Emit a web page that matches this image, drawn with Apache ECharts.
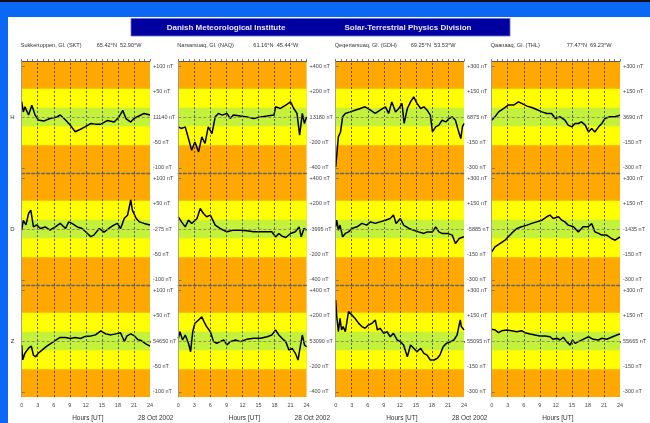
<!DOCTYPE html>
<html><head><meta charset="utf-8">
<script src="https://cdn.jsdelivr.net/npm/echarts@6/dist/echarts.min.js"></script>
<style>html,body{margin:0;padding:0;background:#fff;}#c{width:650px;height:423px;}</style>
</head><body><div id="c"></div>
<script>
// ---------------- labels / categories ----------------
const headerLeft = 'Danish Meteorological Institute';
const headerRight = 'Solar-Terrestrial Physics Division';
const stations = ['SKT', 'NAQ', 'GDH', 'THL'];
const stationTitles = ['Sukkertoppen, Gl. (SKT)', 'Narsarsuaq, Gl. (NAQ)', 'Qeqertarsuaq, Gl. (GDH)', 'Qaanaaq, Gl. (THL)'];
const stationCoords = ['65.42°N  52.90°W', '61.16°N  45.44°W', '69.25°N  53.53°W', '77.47°N  69.23°W'];
const components = ['H', 'D', 'Z'];
const fullScale = [100, 400, 300, 300]; // nT per station (tick at +/- full and half)
const baselineLabels = [
  ['11140 nT', '-275 nT', '54650 nT'],
  ['13180 nT', '-3995 nT', '53090 nT'],
  ['6875 nT', '-5885 nT', '55095 nT'],
  ['3690 nT', '-1435 nT', '55665 nT']
];
const hourTicks = [0, 3, 6, 9, 12, 15, 18, 21, 24];
const xName = 'Hours [UT]';
const dateLabel = '28 Oct 2002';

// ---------------- data (hours UT, deviation nT) ----------------
const SKT_H_hours = [0,0.3,0.6,1.3,1.9,2.5,3.1,4.1,5.3,6.6,7.2,8.2,9.1,10.0,11.0,11.9,12.9,13.8,14.8,16.0,17.3,18.2,18.9,19.5,20.4,21.0,22.3,22.9,24];
const SKT_H_nT    = [30,10,20,4,23,4,-6,-8,-3,0,4,-6,-16,-29,-24,-19,-13,-14,-14,-7,-10,0,13,-3,-10,-3,4,7,4];
const NAQ_H_hours = [0,0.6,1.3,1.9,2.5,3.1,3.8,4.4,5.0,5.6,6.3,6.9,7.5,8.2,9.1,9.7,10.3,11.6,12.8,14.1,15.4,16.6,17.9,18.2,19.1,20.1,21.0,21.6,22.2,22.7,23.2,23.6,24];
const NAQ_H_nT    = [-78,-90,-78,-169,-261,-196,-274,-156,-208,-78,-130,1,28,15,28,-11,15,7,1,-11,1,7,15,80,67,93,119,67,28,-143,28,-51,1];
const GDH_H_hours = [0,0.06,0.5,0.9,1.3,1.8,2.7,3.6,4.6,5.5,6.5,7.4,8.3,9.3,9.9,10.5,11.2,11.8,12.4,12.8,13.4,14.0,14.6,15.2,15.9,16.5,17.1,17.7,18.1,18.7,19.3,19.9,20.6,21.2,21.8,22.4,23.1,23.4,23.7,24];
const GDH_H_nT    = [-294,-274,-117,-88,1,21,30,40,50,60,40,21,40,60,21,89,30,50,80,-38,50,89,119,80,50,60,40,11,-88,-58,-48,-19,-29,-9,1,-19,-97,-127,-58,-38];
const THL_H_hours = [0,0.6,1.3,2.2,3.1,4.1,5.0,5.6,6.6,7.5,8.4,9.4,10.3,11.2,11.9,12.8,13.7,14.3,15.0,15.6,16.2,16.8,17.5,18.1,18.7,19.3,20.0,20.6,21.2,22.1,23.1,24];
const THL_H_nT    = [-19,1,30,50,70,70,89,80,64,56,44,30,21,21,-9,1,-19,-48,-58,-38,-38,-29,-48,-88,-68,-88,-58,-38,-9,1,1,11];

const SKT_D_hours = [0,0.3,0.8,1.3,1.7,2.2,2.8,3.5,4.4,5.3,6.3,7.2,8.2,8.8,9.4,10.4,11.3,12.3,12.9,13.5,14.5,15.4,16.3,17.3,17.9,18.5,19.2,19.8,20.4,20.7,21.4,22.0,22.9,24];
const SKT_D_nT    = [-2,17,8,31,37,4,8,1,4,-2,4,11,1,14,11,4,1,-9,-15,-12,1,-6,1,8,11,1,21,27,57,37,21,14,11,8];
const NAQ_D_hours = [0,0.6,1.3,1.9,2.5,3.5,4.1,4.7,5.3,6.0,6.9,7.8,9.1,10.3,11.6,12.8,14.1,15.4,16.6,17.5,18.2,18.8,19.4,20.1,21.0,21.9,22.6,23.0,23.5,24];
const NAQ_D_nT    = [96,56,17,70,43,83,161,122,96,109,30,4,-22,-9,-9,-14,-22,-22,-22,-22,-62,-35,-56,-67,-35,-22,17,-62,4,-9];
const GDH_D_hours = [0,0.2,0.5,0.8,1.3,1.8,2.4,3.0,4.0,4.9,5.8,6.5,7.4,8.3,9.3,10.2,10.8,11.3,12.1,12.7,13.7,14.6,15.5,16.5,17.1,18.1,18.7,19.3,19.9,20.9,21.8,22.4,23.1,24];
const GDH_D_nT    = [13,52,-7,23,-46,-26,-17,3,13,33,23,42,33,42,52,62,82,33,62,23,3,-7,-17,-26,-17,-17,13,-17,-26,-26,-36,-85,-56,-46];
const THL_D_hours = [0,0.6,1.6,2.5,3.1,3.7,4.7,5.6,6.6,7.5,8.4,9.4,10.3,10.9,11.5,12.5,13.1,13.7,14.3,15.3,16.2,17.1,18.1,18.7,19.3,20.0,20.6,21.5,22.4,23.1,24];
const THL_D_nT    = [-135,-105,-85,-66,-46,-26,3,13,23,33,42,52,72,82,62,72,52,42,23,13,-17,13,13,33,-17,-26,-36,-36,-56,-66,-46];

const SKT_Z_hours = [0,0.2,0.6,1.3,1.8,2.2,2.6,3.1,3.8,4.7,5.7,6.6,7.2,8.2,9.1,10.0,11.0,11.9,12.9,13.8,14.8,15.7,16.7,17.6,18.5,19.2,19.7,20.4,21.1,21.7,22.3,23.3,24];
const SKT_Z_nT    = [-8,-37,-24,-14,-10,-28,-31,-24,-18,-10,-3,3,7,7,5,7,5,9,10,12,20,14,12,14,16,-1,10,14,10,3,1,-6,-10];
const NAQ_Z_hours = [0,0.3,0.8,1.3,1.9,2.3,2.7,3.1,3.8,4.4,4.8,5.3,6.0,6.6,7.2,7.8,8.5,9.1,9.7,10.7,11.6,12.8,14.1,15.4,16.6,17.5,18.2,18.8,19.4,20.1,20.7,21.3,21.9,22.4,22.7,23.2,23.6,24];
const NAQ_Z_nT    = [21,73,8,47,-18,-84,73,139,165,191,152,113,73,-5,-18,-5,8,-31,-5,8,-5,13,21,21,34,47,87,47,21,-5,-71,-58,-97,-150,-71,47,-31,-45];
const GDH_Z_hours = [0,0.2,0.5,0.8,1.1,1.4,1.8,2.1,2.4,3.0,3.6,4.3,4.9,5.5,6.1,6.8,7.4,7.8,8.3,9.0,9.6,10.2,10.8,11.5,12.1,12.7,13.4,14.0,14.6,15.2,15.9,16.5,17.1,17.7,18.4,19.0,19.5,20.1,20.7,21.5,22.1,22.7,23.3,23.5,24];
const GDH_Z_nT    = [242,144,55,134,65,85,55,114,173,154,134,104,85,75,94,104,124,65,75,45,55,25,45,6,-4,-24,-93,-24,-43,-63,-43,-73,-83,-112,-112,-102,-83,-34,-14,-4,6,35,124,85,65];
const THL_Z_hours = [0,0.6,1.3,1.9,2.8,3.7,4.7,5.6,6.2,7.2,8.1,9.0,10.0,10.9,11.5,12.2,12.8,13.4,14.0,14.7,15.1,15.6,16.2,17.1,18.1,19.0,20.0,20.6,21.5,22.4,23.4,24];
const THL_Z_nT    = [69,65,49,61,65,61,55,61,49,41,35,30,30,25,10,16,6,22,-4,-24,6,-14,-4,10,25,10,6,16,10,22,35,41];

const panels = [
  [[SKT_H_hours, SKT_H_nT], [NAQ_H_hours, NAQ_H_nT], [GDH_H_hours, GDH_H_nT], [THL_H_hours, THL_H_nT]],
  [[SKT_D_hours, SKT_D_nT], [NAQ_D_hours, NAQ_D_nT], [GDH_D_hours, GDH_D_nT], [THL_D_hours, THL_D_nT]],
  [[SKT_Z_hours, SKT_Z_nT], [NAQ_Z_hours, NAQ_Z_nT], [GDH_Z_hours, GDH_Z_nT], [THL_Z_hours, THL_Z_nT]]
];

// ---------------- layout / style ----------------
const colLeft = [21.7, 178.3, 335.7, 491.7];
const plotW = 128.3;
const rowTop = [61, 173, 285];
const plotH = 112;
const ORANGE = '#ffa800', YELLOW = '#ffff00', GREEN = '#c4f23a';
const FONT = 'Liberation Sans, Arial, sans-serif';

const grids = [], xAxes = [], yAxes = [], series = [];
for (let r = 0; r < 3; r++) {
  for (let c = 0; c < 4; c++) {
    const gi = r * 4 + c;
    const S = fullScale[c];
    const lim = S * 1.1;
    grids.push({left: colLeft[c], top: rowTop[r], width: plotW, height: plotH,
      show: true, backgroundColor: ORANGE, borderWidth: 0});
    // bottom axis
    xAxes.push({type: 'value', gridIndex: gi, min: 0, max: 24, interval: 1, position: 'bottom',
      axisLine: {show: r === 2, lineStyle: {color: '#555', width: 1}},
      axisTick: {show: r === 2, length: 2, lineStyle: {color: '#555', width: 0.8}},
      axisLabel: {show: r === 2, margin: 5, fontSize: 5.5, color: '#444', fontFamily: FONT,
        formatter: v => hourTicks.indexOf(v) >= 0 ? String(v) : ''},
      splitLine: {show: false}});
    // top axis
    xAxes.push({type: 'value', gridIndex: gi, min: 0, max: 24, interval: 1, position: 'top',
      axisLine: {show: true, lineStyle: {color: r === 0 ? '#555' : '#666', width: r === 0 ? 1 : 1.3, type: r === 0 ? 'solid' : [3, 2]}},
      axisTick: {show: r === 0, length: 2, lineStyle: {color: '#555', width: 0.8}},
      axisLabel: {show: false}, splitLine: {show: false}});
    const tickVals = [-S, -S / 2, 0, S / 2, S];
    yAxes.push({type: 'value', gridIndex: gi, min: -lim, max: lim, position: 'right',
      axisLine: {show: true, lineStyle: {color: '#888', width: 0.8}},
      axisTick: {show: true, length: 3, customValues: tickVals, lineStyle: {color: '#666', width: 0.8}},
      axisLabel: {show: true, customValues: tickVals, margin: 3, fontSize: 5.5, color: '#444', fontFamily: FONT,
        formatter: v => v === 0 ? baselineLabels[c][r] : (v > 0 ? '+' : '') + v + ' nT'},
      splitLine: {show: false}});
    const [hrs, vals] = panels[r][c];
    const vLines = [3, 6, 9, 12, 15, 18, 21].map(h => ({xAxis: h}));
    series.push({
      type: 'line', xAxisIndex: 2 * gi, yAxisIndex: gi,
      data: hrs.map((h, i) => [h, vals[i]]),
      showSymbol: false, symbol: 'none', animation: false, silent: true,
      lineStyle: {color: '#000', width: 1.5},
      markArea: {silent: true, label: {show: false}, data: [
        [{yAxis: -0.555 * S, itemStyle: {color: YELLOW}}, {yAxis: 0.555 * S}],
        [{yAxis: -0.18 * S, itemStyle: {color: GREEN}}, {yAxis: 0.18 * S}]
      ]},
      markLine: {silent: true, symbol: ['none', 'none'], label: {show: false}, animation: false,
        lineStyle: {color: '#333', width: 0.8, type: [2, 2]},
        data: [{yAxis: 0, lineStyle: {color: '#777', width: 0.8, type: [3, 2]}},
               {xAxis: 0, lineStyle: {color: '#999', width: 0.8, type: 'solid'}}].concat(vLines)}
    });
  }
}

// ---------------- texts and frame ----------------
const graphics = [
  {type: 'rect', shape: {x: 0, y: 0, width: 650, height: 17}, style: {fill: '#0a68f5'}, silent: true},
  {type: 'rect', shape: {x: 0, y: 0, width: 8, height: 423}, style: {fill: '#0a68f5'}, silent: true},
  {type: 'rect', shape: {x: 0, y: 0, width: 650, height: 2}, style: {fill: '#111'}, silent: true},
  {type: 'rect', shape: {x: 131, y: 18.5, width: 379, height: 17.5}, style: {fill: '#0000a0', stroke: '#6a6ad8', lineWidth: 0.8}, silent: true},
  {type: 'text', x: 226, y: 27.5, style: {text: headerLeft, fill: '#e8e8ff', font: 'bold 8px ' + FONT, textAlign: 'center', textVerticalAlign: 'middle'}},
  {type: 'text', x: 408, y: 27.5, style: {text: headerRight, fill: '#e8e8ff', font: 'bold 8px ' + FONT, textAlign: 'center', textVerticalAlign: 'middle'}}
];
for (let c = 0; c < 4; c++) {
  graphics.push({type: 'text', x: colLeft[c] - 1, y: 45, style: {text: stationTitles[c], fill: '#333', font: '5.6px ' + FONT, textVerticalAlign: 'middle'}});
  graphics.push({type: 'text', x: colLeft[c] + 75, y: 45, style: {text: stationCoords[c], fill: '#333', font: '5.6px ' + FONT, textVerticalAlign: 'middle'}});
  graphics.push({type: 'text', x: colLeft[c] + plotW / 2 + 2, y: 418, style: {text: xName, fill: '#333', font: '6.5px ' + FONT, textAlign: 'center', textVerticalAlign: 'middle'}});
  if (c < 3) graphics.push({type: 'text', x: colLeft[c] + plotW - 12, y: 418.5, style: {text: dateLabel, fill: '#333', font: '6.5px ' + FONT, textVerticalAlign: 'middle'}});
}
for (let r = 0; r < 3; r++) {
  graphics.push({type: 'text', x: 12.5, y: rowTop[r] + plotH / 2, style: {text: components[r], fill: '#333', font: '6px ' + FONT, textAlign: 'center', textVerticalAlign: 'middle'}});
}

const chart = echarts.init(document.getElementById('c'), null, {renderer: 'canvas'});
chart.setOption({
  backgroundColor: '#ffffff',
  animation: false,
  grid: grids, xAxis: xAxes, yAxis: yAxes, series: series,
  graphic: graphics
});
</script></body></html>
